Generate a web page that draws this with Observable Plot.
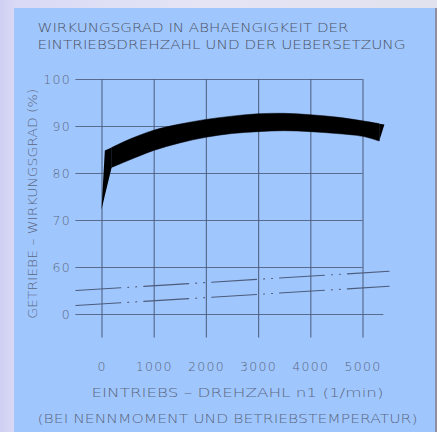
<!DOCTYPE html>
<html>
<head>
<meta charset="utf-8">
<script src="https://cdn.jsdelivr.net/npm/d3@7"></script>
<script src="https://cdn.jsdelivr.net/npm/@observablehq/plot@0.6"></script>
<style>
  html, body { margin: 0; padding: 0; }
  #wrap { position: relative; width: 437px; height: 432px; overflow: hidden;
    background: linear-gradient(to right, #cfcff3 0px, #d9d9f6 14px, #e4e4f5 200px, #e2e2ee 437px); }
  #panel { position: absolute; left: 14px; top: 8px; width: 421px; height: 424px; background: #a0c6fe; }
  #edge { position: absolute; left: 435px; top: 8px; width: 2px; height: 424px; background: #8e90a2; }
  #chart { position: absolute; left: 0; top: 0; }
</style>
</head>
<body>
<div id="wrap"><div id="panel"></div><div id="edge"></div><div id="chart"></div></div>
<script>
// ---- data ----
const titleLines = ["WIRKUNGSGRAD IN ABHAENGIGKEIT DER", "EINTRIEBSDREHZAHL UND DER UEBERSETZUNG"];
const xTitle = "EINTRIEBS \u2013 DREHZAHL n1 (1/min)";
const caption = "(BEI NENNMOMENT UND BETRIEBSTEMPERATUR)";
const yTitle = "GETRIEBE \u2013 WIRKUNGSGRAD (%)";

const xTicks = [0, 1000, 2000, 3000, 4000, 5000];
const yTicks = [50, 60, 70, 80, 90, 100];          // 50 is the broken-axis "0"
const yTickLabels = ["0", "60", "70", "80", "90", "100"];

// efficiency band (rpm, upper and lower edge in %), in three parts:
// the steep start, the curved body, the slanted end
const rpm   = [0,    64,   195,  195,  500,  1000, 1500, 2000, 2500, 3000, 3500, 4000, 4500, 5000, 5320, 5320, 5420];
const upper = [72.2, 84.8, 85.4, 85.4, 87.0, 89.1, 90.4, 91.4, 92.1, 92.6, 92.7, 92.4, 91.9, 91.1, 90.5, 90.5, 90.3];
const lower = [72.2, 75.2, 81.2, 81.2, 82.6, 84.8, 86.4, 87.6, 88.4, 88.8, 89.0, 88.8, 88.4, 87.8, 86.8, 86.8, 90.3];
const part  = ["tip", "tip", "tip", "body", "body", "body", "body", "body", "body", "body", "body", "body", "body", "body", "body", "cap", "cap"];

// two thin lines inside the broken part of the axis
const lineRpm = [-500, 5500];
const lineUpper = [55.1, 59.2];
const lineLower = [51.9, 56.0];

// ---- tables for Plot ----
const band = rpm.map((x, i) => ({x, y1: lower[i], y2: upper[i], part: part[i]}));
const lines = [
  ...lineRpm.map((x, i) => ({x, y: lineUpper[i], s: "a"})),
  ...lineRpm.map((x, i) => ({x, y: lineLower[i], s: "b"}))
];
const hGrid = yTicks.map(y => ({y, x1: -500, x2: y === 50 ? 5400 : 5000}));
const vGrid = xTicks.map(x => ({x, y1: 45, y2: 100}));

const gridColor = "#4c5c7a";
const textColor = "#5c687e";

const chart = Plot.plot({
  width: 437,
  height: 432,
  marginLeft: 75.4,
  marginRight: 48.4,
  marginTop: 79,
  marginBottom: 94.5,
  style: {background: "transparent", fontFamily: "'DejaVu Sans', sans-serif", fontWeight: 300, color: textColor, overflow: "visible"},
  x: {domain: [-500, 5500], axis: null},
  y: {domain: [45, 100], axis: null},
  marks: [
    Plot.ruleY(hGrid, {y: "y", x1: "x1", x2: "x2", stroke: gridColor, strokeOpacity: 0.85, strokeWidth: 1.2}),
    Plot.ruleX(vGrid, {x: "x", y1: "y1", y2: "y2", stroke: gridColor, strokeOpacity: 0.85, strokeWidth: 1.2}),
    Plot.line(lines, {x: "x", y: "y", z: "s", stroke: gridColor, strokeWidth: 1.1, strokeDasharray: "45,7,1,7,1,7"}),
    Plot.areaY(band.filter(d => d.part === "tip"), {x: "x", y1: "y1", y2: "y2", fill: "black", curve: "linear"}),
    Plot.areaY(band.filter(d => d.part === "body"), {x: "x", y1: "y1", y2: "y2", fill: "black", stroke: "black", strokeWidth: 0.5, curve: "catmull-rom"}),
    Plot.areaY(band.filter(d => d.part === "cap"), {x: "x", y1: "y1", y2: "y2", fill: "black", curve: "linear"}),
    Plot.axisY(yTicks, {tickFormat: d => yTickLabels[yTicks.indexOf(d)], tickSize: 0, tickPadding: 5, fontSize: 12.5, label: null}),
    Plot.axisX(xTicks, {tickFormat: d => String(d), tickSize: 0, tickPadding: 24, fontSize: 12.5, label: null}),
    Plot.text([titleLines[0]], {frameAnchor: "top-left", dx: 37 - 75.4, dy: 31.7 - 79, textAnchor: "start", lineAnchor: "bottom", fontSize: 12.6, fill: "#4c5464"}),
    Plot.text([titleLines[1]], {frameAnchor: "top-left", dx: 37 - 75.4, dy: 48.3 - 79, textAnchor: "start", lineAnchor: "bottom", fontSize: 12.6, fill: "#4c5464"}),
    Plot.text([xTitle], {frameAnchor: "bottom", dx: 5, dy: 55, lineAnchor: "middle", fontSize: 12.8, fill: textColor}),
    Plot.text([caption], {frameAnchor: "bottom", dx: -5, dy: 80.5, lineAnchor: "middle", fontSize: 12.8, fill: textColor}),
    Plot.text([yTitle], {frameAnchor: "left", dx: 32.3 - 75.4, dy: -5, rotate: -90, textAnchor: "middle", lineAnchor: "middle", fontSize: 11.8, fill: textColor})
  ]
});

// fit the wide CAD-like lettering widths
const widths = {};
widths[titleLines[0]] = 311;
widths[titleLines[1]] = 368;
widths[xTitle] = 292;
widths[caption] = 380;
widths[yTitle] = 230;
d3.select(chart).selectAll("text").each(function() {
  const w = widths[this.textContent];
  if (w) { this.setAttribute("textLength", w); this.setAttribute("lengthAdjust", "spacingAndGlyphs"); }
});
d3.select(chart).selectAll("[aria-label$='tick label']").attr("letter-spacing", "1.3");
document.getElementById("chart").appendChild(chart);
</script>
</body>
</html>
